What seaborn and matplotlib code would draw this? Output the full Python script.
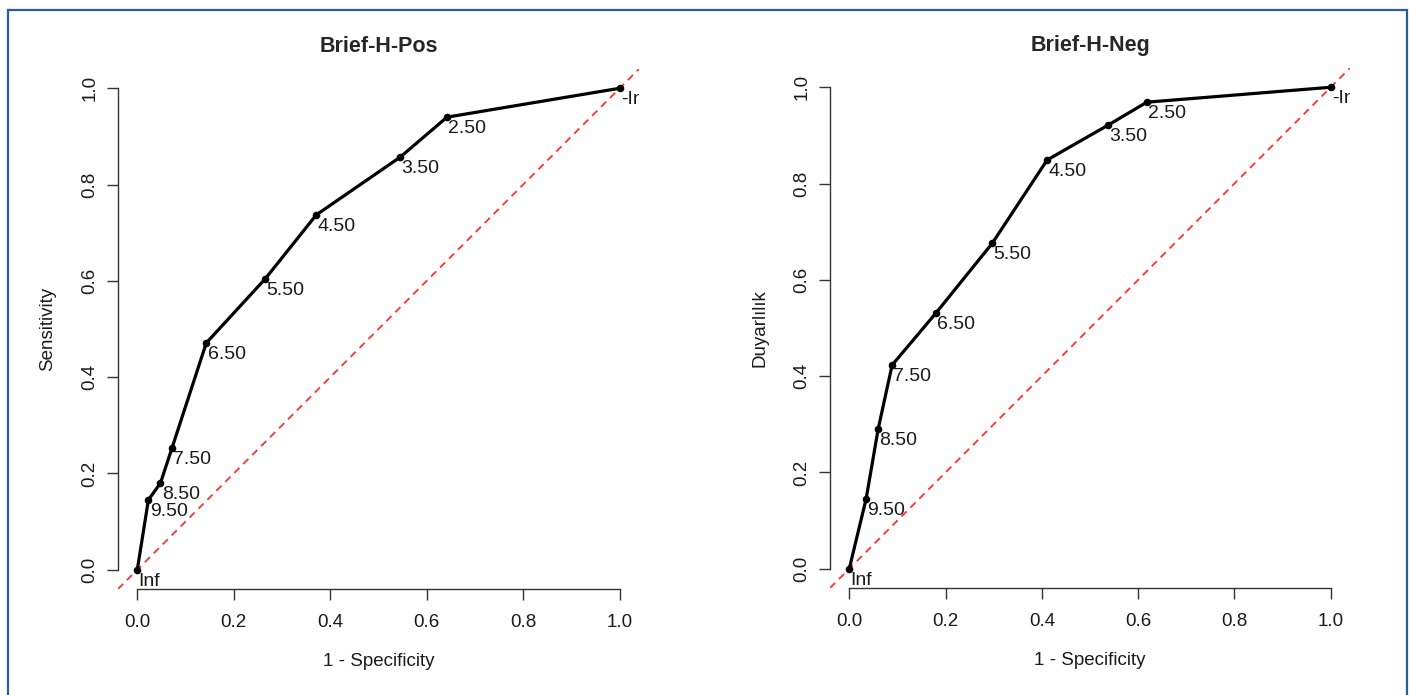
import matplotlib
matplotlib.use("Agg")
import matplotlib.pyplot as plt
import seaborn as sns
import pandas as pd
from matplotlib.patches import Rectangle

sns.set_theme(style="white")
plt.rcParams['font.family'] = ['Liberation Sans', 'DejaVu Sans']

# Data
thresholds = ["Inf", "9.50", "8.50", "7.50", "6.50", "5.50", "4.50", "3.50", "2.50", "-Inf"]
pos_fpr = [0.0, 0.023, 0.048, 0.072, 0.143, 0.265, 0.371, 0.545, 0.642, 1.0]
pos_tpr = [0.0, 0.145, 0.180, 0.253, 0.471, 0.604, 0.737, 0.857, 0.940, 1.0]
neg_fpr = [0.0, 0.035, 0.060, 0.089, 0.180, 0.297, 0.411, 0.537, 0.618, 1.0]
neg_tpr = [0.0, 0.145, 0.290, 0.423, 0.531, 0.676, 0.849, 0.921, 0.969, 1.0]
titles = ["Brief-H-Pos", "Brief-H-Neg"]
ylabels = ["Sensitivity", "Duyarlılık"]
xlabel = "1 - Specificity"
ticks = [0.0, 0.2, 0.4, 0.6, 0.8, 1.0]
tick_labels = ["0.0", "0.2", "0.4", "0.6", "0.8", "1.0"]

fig = plt.figure(figsize=(14.10, 6.95), dpi=100)
W, H = 1410, 695
ax_boxes = [(118, 639, 69, 589), (830, 1350, 68, 588)]

series = [(pos_fpr, pos_tpr), (neg_fpr, neg_tpr)]
for i, ((l, r, t, b), (fx, ty)) in enumerate(zip(ax_boxes, series)):
    ax = fig.add_axes([l / W, 1 - b / H, (r - l) / W, (b - t) / H])
    df = pd.DataFrame({"fpr": fx, "tpr": ty, "thr": thresholds})
    ax.axline((0, 0), (1, 1), color="#ff3030", lw=1.3, ls=(0, (4, 3)), zorder=1)
    sns.lineplot(data=df, x="fpr", y="tpr", sort=False, estimator=None,
                 color="black", lw=2.3, ax=ax, zorder=2)
    sns.scatterplot(data=df, x="fpr", y="tpr", color="black", s=30,
                    edgecolor="black", linewidth=0, ax=ax, zorder=3)
    for xv, yv, lab in zip(fx, ty, thresholds):
        ax.annotate(lab, (xv, yv), xytext=(1, -2), textcoords="offset points",
                    ha="left", va="top", fontsize=14, color="#1a1a1a",
                    annotation_clip=False, clip_on=True)
    ax.set_xlim(-0.04, 1.04)
    ax.set_ylim(-0.04, 1.04)
    ax.set_xticks(ticks)
    ax.set_xticklabels(tick_labels, fontsize=13.5)
    ax.set_yticks(ticks)
    ax.set_yticklabels(tick_labels, fontsize=13.5, rotation=90, va="center")
    ax.tick_params(axis="both", direction="out", length=8, width=1, color="#333333",
                   labelcolor="#1a1a1a", left=True, bottom=True)
    ax.tick_params(axis="x", pad=10)
    ax.tick_params(axis="y", pad=6)
    for s in ["top", "right"]:
        ax.spines[s].set_visible(False)
    for s in ["left", "bottom"]:
        ax.spines[s].set_bounds(0, 1)
        ax.spines[s].set_color("#333333")
        ax.spines[s].set_linewidth(1)
    ax.set_xlabel(xlabel, fontsize=13.5, labelpad=16, color="#1a1a1a")
    ax.set_ylabel(ylabels[i], fontsize=13.5, labelpad=18, color="#1a1a1a")
    ax.set_title(titles[i], fontsize=15.5, fontweight="bold", pad=12)
    ax.set_facecolor("none")

fig.patches.append(Rectangle((8 / W, -0.01), (1407 - 8) / W, 1 - 10 / H - (-0.01),
                             transform=fig.transFigure, fill=False,
                             edgecolor="#2b5c9b", lw=1.6, zorder=0))

fig.savefig("out.png", dpi=100)
